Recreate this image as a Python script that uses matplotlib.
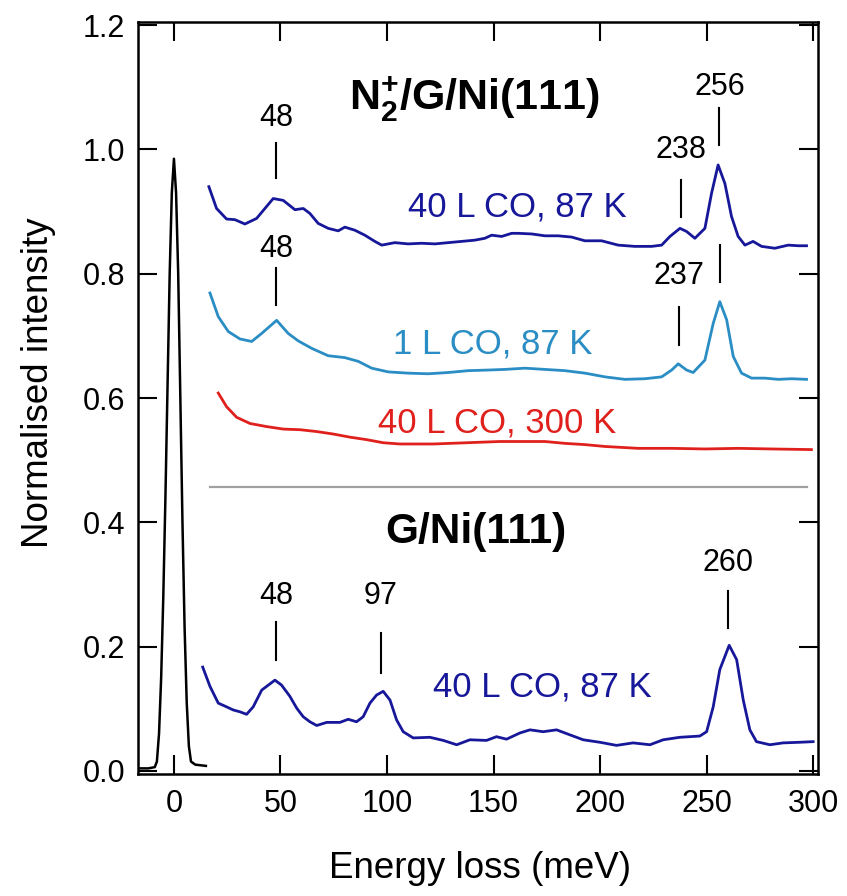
import matplotlib
matplotlib.use("Agg")
import matplotlib.pyplot as plt

plt.rcParams['font.family'] = ['Liberation Sans', 'DejaVu Sans']
plt.rcParams['mathtext.fontset'] = 'custom'
plt.rcParams['mathtext.rm'] = 'Liberation Sans:bold'
plt.rcParams['mathtext.it'] = 'Liberation Sans:bold'
plt.rcParams['mathtext.bf'] = 'Liberation Sans:bold'

# --- data ---
# elastic peak
elastic_x = [-17, -12, -9, -8, -7, -6, -5, -4, -3, -2, -1, 0, 1, 2, 3, 4, 5, 6, 7, 8, 10, 15]
elastic_y = [0.004, 0.004, 0.006, 0.015, 0.06, 0.15, 0.28, 0.44, 0.62, 0.80, 0.93, 0.985,
             0.93, 0.80, 0.60, 0.40, 0.23, 0.11, 0.04, 0.015, 0.01, 0.008]

# N2+/G/Ni(111), 40 L CO, 87 K
n2_40L_x = [16.4, 20.0, 24.7, 28.6, 33.3, 38.8, 42.7, 46.6, 51.3, 56.8, 60.7, 63.8, 67.7, 72.4,
            77.1, 80.2, 84.9, 89.6, 94.3, 97.5, 103.7, 109.9, 116.2, 122.5, 128.7, 135.0, 141.2,
            145.9, 149.1, 153.8, 158.5, 161.6, 167.9, 174.1, 180.3, 186.6, 192.9, 200.7, 208.5,
            216.3, 224.2, 228.9, 232.8, 237.5, 240.6, 244.5, 249.2, 252.3, 255.4, 258.6, 261.7,
            264.8, 268.0, 271.8, 275.8, 282.0, 288.3, 293.0, 296.9]
n2_40L_y = [0.940, 0.905, 0.888, 0.887, 0.880, 0.889, 0.905, 0.921, 0.918, 0.903, 0.905, 0.897,
            0.881, 0.873, 0.869, 0.875, 0.870, 0.862, 0.852, 0.846, 0.850, 0.848, 0.849, 0.848,
            0.850, 0.852, 0.854, 0.857, 0.862, 0.860, 0.865, 0.865, 0.864, 0.861, 0.861, 0.859,
            0.853, 0.853, 0.846, 0.844, 0.844, 0.846, 0.860, 0.873, 0.868, 0.857, 0.873, 0.929,
            0.975, 0.945, 0.892, 0.860, 0.846, 0.852, 0.844, 0.841, 0.846, 0.845, 0.845]

# N2+/G/Ni(111), 1 L CO, 87 K
n2_1L_x = [16.9, 20.8, 25.5, 31.0, 36.5, 41.2, 48.2, 53.6, 58.3, 64.6, 72.4, 80.2, 86.5, 92.8,
           100.6, 109.9, 119.3, 128.7, 138.1, 147.5, 155.3, 164.7, 174.1, 183.5, 192.9, 202.3,
           211.6, 221.0, 228.9, 233.6, 236.7, 240.6, 243.7, 249.2, 253.1, 256.2, 259.4, 262.5,
           266.4, 271.1, 277.3, 283.6, 289.9, 296.9]
n2_1L_y = [0.769, 0.731, 0.707, 0.695, 0.691, 0.704, 0.725, 0.704, 0.692, 0.680, 0.668, 0.665,
           0.659, 0.648, 0.642, 0.640, 0.639, 0.641, 0.644, 0.645, 0.646, 0.648, 0.646, 0.644,
           0.640, 0.634, 0.630, 0.631, 0.634, 0.645, 0.655, 0.645, 0.641, 0.661, 0.720, 0.755,
           0.726, 0.667, 0.640, 0.632, 0.632, 0.630, 0.631, 0.630]

# N2+/G/Ni(111), 40 L CO, 300 K
n2_300K_x = [20.8, 24.7, 29.4, 35.7, 43.5, 51.3, 59.1, 67.0, 74.8, 82.6, 90.4, 98.2, 106.1,
             113.9, 121.7, 129.5, 137.4, 145.1, 153.0, 164.7, 174.1, 183.5, 192.9, 202.3,
             217.9, 233.6, 249.2, 264.8, 280.5, 299.2]
n2_300K_y = [0.608, 0.586, 0.569, 0.559, 0.554, 0.550, 0.549, 0.546, 0.542, 0.537, 0.533, 0.528,
             0.526, 0.526, 0.526, 0.527, 0.528, 0.529, 0.530, 0.530, 0.530, 0.527, 0.525, 0.522,
             0.519, 0.519, 0.518, 0.519, 0.518, 0.517]

# G/Ni(111), 40 L CO, 87 K
g_40L_x = [13.5, 16.9, 20.8, 24.7, 27.8, 31.0, 34.1, 37.2, 41.2, 44.3, 47.4, 50.5, 54.4, 57.6,
           60.7, 63.8, 67.0, 71.7, 77.9, 81.8, 85.7, 88.8, 92.0, 95.1, 98.2, 101.4, 104.5, 107.6,
           112.3, 120.1, 126.4, 132.7, 138.9, 146.7, 151.4, 156.1, 162.4, 167.1, 173.3, 179.6,
           185.8, 192.1, 199.9, 207.7, 215.5, 223.4, 229.6, 237.4, 246.8, 250.0, 253.1, 256.2,
           260.6, 264.1, 267.2, 270.3, 273.4, 279.7, 285.9, 293.7, 300.0]
g_40L_y = [0.167, 0.136, 0.109, 0.103, 0.098, 0.095, 0.091, 0.103, 0.130, 0.138, 0.146, 0.138,
           0.120, 0.101, 0.087, 0.079, 0.073, 0.078, 0.078, 0.083, 0.079, 0.087, 0.109, 0.122,
           0.128, 0.114, 0.082, 0.063, 0.053, 0.054, 0.049, 0.042, 0.050, 0.049, 0.055, 0.051,
           0.061, 0.066, 0.063, 0.066, 0.058, 0.050, 0.046, 0.041, 0.045, 0.042, 0.050, 0.054,
           0.056, 0.063, 0.103, 0.163, 0.202, 0.179, 0.114, 0.066, 0.047, 0.042, 0.045, 0.046,
           0.047]

# peak markers
peak_pos = [48, 238, 256, 48, 237, 48, 97, 260]
peak_text = ['48', '238', '256', '48', '237', '48', '97', '260']
peak_tick_lo = [0.954, 0.892, 1.007, 0.750, 0.685, 0.179, 0.157, 0.230]
peak_tick_hi = [1.010, 0.951, 1.066, 0.809, 0.747, 0.239, 0.222, 0.290]
peak_text_y = [1.037, 0.987, 1.088, 0.8275, 0.784, 0.269, 0.269, 0.322]

navy = '#17179a'
light = '#2a8dc4'
red = '#e0201c'

fig = plt.figure(figsize=(8.47, 8.96), dpi=100)
ax = fig.add_axes([0.1626, 0.1362, 0.8032, 0.8392])

ax.plot(elastic_x, elastic_y, color='black', lw=1.8)
ax.plot(n2_40L_x, n2_40L_y, color=navy, lw=2)
ax.plot(n2_1L_x, n2_1L_y, color=light, lw=2)
ax.plot(n2_300K_x, n2_300K_y, color=red, lw=2)
ax.plot(g_40L_x, g_40L_y, color=navy, lw=2)
ax.plot([17, 297], [0.457, 0.457], color='#a0a0a0', lw=1.6)

# extra marker for 256 on the 1 L curve
ax.plot([256.5, 256.5], [0.787, 0.846], color='black', lw=1.5)
for xp, t, lo, hi, ty in zip(peak_pos, peak_text, peak_tick_lo, peak_tick_hi, peak_text_y):
    ax.plot([xp, xp], [lo, hi], color='black', lw=1.5)
    ax.text(xp, ty, t, ha='center', va='baseline', fontsize=22)

ax.text(141, 1.062, r'N$_\mathrm{2}^\mathrm{+}$/G/Ni(111)', ha='center', va='baseline',
        fontsize=31, fontweight='bold')
ax.text(141.5, 0.367, 'G/Ni(111)', ha='center', va='baseline', fontsize=30.5, fontweight='bold')

ax.text(110, 0.8916, '40 L CO, 87 K', color=navy, fontsize=25, va='baseline')
ax.text(103, 0.672, '1 L CO, 87 K', color=light, fontsize=25, va='baseline')
ax.text(96, 0.544, '40 L CO, 300 K', color=red, fontsize=25, va='baseline')
ax.text(121.5, 0.1196, '40 L CO, 87 K', color=navy, fontsize=25, va='baseline')

ax.set_xlim(-17, 302.3)
ax.set_ylim(-0.005, 1.205)
ax.set_xticks([0, 50, 100, 150, 200, 250, 300])
ax.set_yticks([0.0, 0.2, 0.4, 0.6, 0.8, 1.0, 1.2])
ax.set_yticklabels(['0.0', '0.2', '0.4', '0.6', '0.8', '1.0', '1.2'])
ax.tick_params(direction='in', length=14, width=1.5, labelsize=22, top=True, right=True)
ax.tick_params(axis='x', pad=11)
ax.tick_params(axis='y', pad=9)
for s in ax.spines.values():
    s.set_linewidth(1.8)

ax.set_xlabel('Energy loss (meV)', fontsize=26.5)
ax.set_ylabel('Normalised intensity', fontsize=26.5)
ax.xaxis.set_label_coords(0.503, -0.102)
ax.yaxis.set_label_coords(-0.120, 0.52)

fig.savefig('out.png', dpi=100)
